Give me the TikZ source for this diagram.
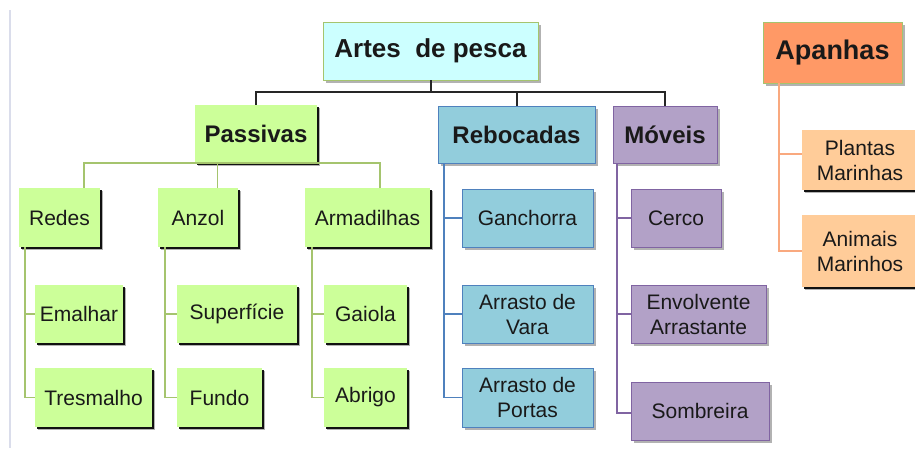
\documentclass[tikz,border=0pt]{standalone}
\usepackage{fontspec}
\setmainfont{Liberation Sans}
\usetikzlibrary{shadows,calc}
\definecolor{gfill}{HTML}{CCFF99}
\definecolor{gline}{HTML}{A5C46E}
\definecolor{bfill}{HTML}{92CDDC}
\definecolor{bline}{HTML}{4F81BD}
\definecolor{pfill}{HTML}{B2A1C7}
\definecolor{pline}{HTML}{8064A2}
\definecolor{ofill}{HTML}{FF9966}
\definecolor{oline}{HTML}{F9A97F}
\definecolor{lofill}{HTML}{FFCC99}
\definecolor{cfill}{HTML}{CCFFFF}
\definecolor{edge}{HTML}{DADDEB}
\tikzset{
  base/.style={inner sep=0pt, align=center, text=black!90,
    font=\fontsize{21}{25}\selectfont},
  softsh/.style={drop shadow={shadow xshift=2.5pt,shadow yshift=-2.5pt,fill=black,opacity=0.3}},
  hardsh/.style={drop shadow={shadow xshift=1.5pt,shadow yshift=-1.5pt,fill=black,opacity=0.9}},
  gbox/.style={base, fill=gfill, softsh, hardsh},
  bbox/.style={base, fill=bfill, draw=bline, line width=0.8pt, softsh},
  pbox/.style={base, fill=pfill, draw=pline, line width=0.8pt, softsh},
  obox/.style={base, fill=lofill, softsh, hardsh},
  head/.style={font=\fontsize{24}{28}\selectfont\bfseries},
  bus/.style={draw=black!85, line width=2pt},
  gcon/.style={draw=gline, line width=1.8pt},
  bcon/.style={draw=bline, line width=1.8pt},
  pcon/.style={draw=pline, line width=1.8pt},
  ocon/.style={draw=oline, line width=1.8pt},
}
\begin{document}
\begin{tikzpicture}[x=1pt,y=-1pt]
\useasboundingbox (0,0) rectangle (915,448);
\clip (0,0) rectangle (915,448);
\fill[white] (0,0) rectangle (915,448);
\draw[edge, line width=2pt] (10,10) -- (10,448);

% top level
\node[base, fill=cfill, draw=gline, line width=0.6pt, softsh,
  font=\fontsize{26}{28}\selectfont\bfseries,
  minimum width=215pt, minimum height=58pt] (artes) at (430.5,51) {Artes\ \ de pesca};
\node[base, fill=ofill, draw=gline, line width=0.6pt, softsh,
  font=\fontsize{27}{28}\selectfont\bfseries,
  minimum width=139pt, minimum height=61pt] (apanhas) at (832.5,52.5) {Apanhas};

% second level
\node[gbox, head, minimum width=122pt, minimum height=58pt] (passivas) at (256,134) {Passivas};
\node[bbox, head, minimum width=157pt, minimum height=57pt] (rebocadas) at (516.5,134.5) {Rebocadas};
\node[pbox, head, minimum width=104pt, minimum height=57pt] (moveis) at (665,134.5) {Móveis};

% passivas children
\node[gbox, minimum width=81pt, minimum height=59pt] (redes) at (59.5,217.5) {Redes};
\node[gbox, minimum width=80pt, minimum height=59pt] (anzol) at (198,217.5) {Anzol};
\node[gbox, minimum width=125pt, minimum height=59pt] (armadilhas) at (367.5,217.5) {Armadilhas};

\node[gbox, minimum width=88pt, minimum height=58pt] (emalhar) at (79,314) {Emalhar};
\node[gbox, minimum width=117pt, minimum height=59pt] (tresmalho) at (93.5,397.5) {Tresmalho};
\node[gbox, minimum width=120pt, minimum height=58pt] (superficie) at (237,314) {Superfície};
\node[gbox, minimum width=85pt, minimum height=59pt] (fundo) at (219.5,397.5) {Fundo};
\node[gbox, minimum width=83pt, minimum height=58pt] (gaiola) at (365.5,314) {Gaiola};
\node[gbox, minimum width=83pt, minimum height=59pt] (abrigo) at (365.5,397.5) {Abrigo};

% rebocadas children
\node[bbox, minimum width=131pt, minimum height=58pt] (ganchorra) at (527.5,218) {Ganchorra};
\node[bbox, minimum width=131pt, minimum height=58pt] (vara) at (527.5,314) {Arrasto de\\Vara};
\node[bbox, minimum width=131pt, minimum height=59pt] (portas) at (527.5,397.5) {Arrasto de\\Portas};

% moveis children
\node[pbox, minimum width=90pt, minimum height=58pt] (cerco) at (676,218) {Cerco};
\node[pbox, minimum width=135pt, minimum height=58pt] (envolvente) at (698.5,314) {Envolvente\\Arrastante};
\node[pbox, minimum width=138pt, minimum height=58pt] (sombreira) at (700,411) {Sombreira};

% apanhas children
\node[obox, minimum width=116pt, minimum height=60pt] (plantas) at (860,160) {Plantas\\Marinhas};
\node[obox, minimum width=116pt, minimum height=72pt] (animais) at (860,251) {Animais\\Marinhos};

% top bus
\coordinate (busc) at ($(artes.south)+(0,12)$);
\draw[bus] (artes.south) -- (busc);
\draw[bus] (busc) -| (passivas.north);
\draw[bus] (busc) -| (rebocadas.north);
\draw[bus] (busc) -| (moveis.north);

% passivas bus
\coordinate (rd) at ([xshift=24.5pt]redes.north);
\coordinate (az) at ([xshift=19.5pt]anzol.north);
\coordinate (am) at ([xshift=12.5pt]armadilhas.north);
\draw[gcon] (rd) -- (rd |- passivas.south) -- (am |- passivas.south) -- (am);
\draw[gcon] (az) -- (az |- passivas.south);

% passivas grandchildren
\coordinate (rv) at ([xshift=6pt]redes.south west);
\draw[gcon] (rv) |- (emalhar.west);
\draw[gcon] (rv) |- (tresmalho.west);
\coordinate (av) at ([xshift=7pt]anzol.south west);
\draw[gcon] (av) |- (superficie.west);
\draw[gcon] (av) |- (fundo.west);
\coordinate (mv) at ([xshift=7pt]armadilhas.south west);
\draw[gcon] (mv) |- (gaiola.west);
\draw[gcon] (mv) |- (abrigo.west);

% rebocadas
\coordinate (bv) at ([xshift=6pt]rebocadas.south west);
\draw[bcon] (bv) |- (ganchorra.west);
\draw[bcon] (bv) |- (vara.west);
\draw[bcon] (bv) |- (portas.west);

% moveis
\coordinate (pv) at ([xshift=4pt]moveis.south west);
\draw[pcon] (pv) |- (cerco.west);
\draw[pcon] (pv) |- (envolvente.west);
\draw[pcon] (pv) |- ([yshift=-2pt]sombreira.west);

% apanhas
\coordinate (ov) at ([xshift=16pt]apanhas.south west);
\draw[ocon] (ov) |- ([yshift=6pt]plantas.west);
\draw[ocon] (ov) |- (animais.west);
\end{tikzpicture}
\end{document}
